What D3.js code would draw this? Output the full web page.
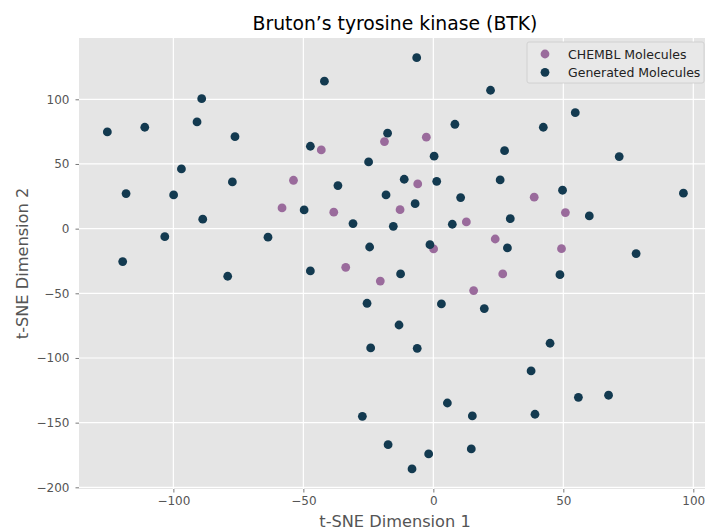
<!DOCTYPE html>
<html>
<head>
<meta charset="utf-8">
<script src="https://cdn.jsdelivr.net/npm/d3@7"></script>
<style>
  html, body { margin: 0; padding: 0; background: #fff; }
  svg { display: block; font-family: "DejaVu Sans", sans-serif; }
</style>
</head>
<body>
<svg id="chart" width="706" height="531"></svg>
<script>
// t-SNE embedding coordinates: reference (ChEMBL) molecules
const chemblX = [-43.1, -18.8, -53.8, -58.2, -38.3, -12.8, -33.7, -20.4, -2.7, -6.0,
                 38.8, 50.8, 12.7, 23.8, 0.1, 49.3, 26.7, 15.5];
const chemblY = [60.9, 67.3, 37.4, 16.0, 12.7, 14.7, -29.9, -40.5, 70.7, 34.6,
                 24.3, 12.4, 5.2, -8.0, -15.7, -15.5, -35.0, -47.9];

// t-SNE embedding coordinates: generated molecules
const genX = [-125.4, -111.0, -89.1, -90.9, -76.3, -41.9, -47.3, -17.6, -24.9, -96.9,
              -77.3, -36.7, -18.2, -118.2, -99.9, -49.7, -88.7, -30.9, -15.4, -103.3,
              -63.6, -24.5, -119.5, -47.3, -79.1, -12.6, -6.4, 22.0, 54.6, 8.3,
              42.3, 0.3, 27.4, 71.5, -11.2, 1.3, 25.7, 10.5, 49.7, 96.2,
              -7.0, 60.0, 29.6, 7.3, -1.3, 28.5, 78.0, 48.7, 3.1, 19.6,
              -13.2, -6.2, 44.9, 37.6, 55.8, 67.4, 5.4, 15.0, 39.1, -17.4,
              -1.8, 14.6, -8.2, -25.5, -24.1, -27.3];
const genY = [74.8, 78.4, 100.5, 82.5, 71.1, 114.0, 63.7, 73.8, 51.6, 46.2,
              36.1, 33.3, 26.1, 27.1, 26.1, 14.5, 7.3, 3.9, 1.8, -6.2,
              -6.6, -14.2, -25.5, -32.7, -36.8, -35.0, 132.2, 107.0, 89.7, 80.7,
              78.4, 56.0, 60.3, 55.7, 38.2, 36.6, 37.7, 24.0, 29.7, 27.4,
              19.3, 9.8, 7.7, 3.4, -12.4, -14.9, -19.3, -35.6, -58.2, -61.8,
              -74.5, -92.5, -88.6, -110.0, -130.4, -128.8, -134.8, -144.8, -143.5, -167.0,
              -174.2, -170.3, -185.8, -57.7, -92.2, -145.1];

const xTicks = [-100, -50, 0, 50, 100];
const yTicks = [-200, -150, -100, -50, 0, 50, 100];

const seriesNames = ["CHEMBL Molecules", "Generated Molecules"];
const seriesColors = ["#9a6b9c", "#133a50"];

const title = "Bruton\u2019s tyrosine kinase (BTK)";
const xLabel = "t-SNE Dimension 1";
const yLabel = "t-SNE Dimension 2";

const svg = d3.select("#chart");
const margin = { left: 79, right: 1, top: 38, bottom: 42 };
const W = 706, H = 531;
const plotW = W - margin.left - margin.right;
const plotH = H - margin.top - margin.bottom;

const x = d3.scaleLinear().domain([-136.3, 104.5]).range([0, plotW]);
const y = d3.scaleLinear().domain([-201.3, 147.4]).range([plotH, 0]);

const g = svg.append("g").attr("transform", `translate(${margin.left},${margin.top})`);

// panel background
g.append("rect").attr("width", plotW).attr("height", plotH).attr("fill", "#e5e5e5");

// grid
g.append("g").selectAll("line").data(xTicks).join("line")
  .attr("x1", d => x(d)).attr("x2", d => x(d))
  .attr("y1", 0).attr("y2", plotH)
  .attr("stroke", "#fff").attr("stroke-width", 1.2);
g.append("g").selectAll("line").data(yTicks).join("line")
  .attr("x1", 0).attr("x2", plotW)
  .attr("y1", d => y(d)).attr("y2", d => y(d))
  .attr("stroke", "#fff").attr("stroke-width", 1.2);

const fmt = d => (d < 0 ? "\u2212" + Math.abs(d) : String(d));

// axes
const xAxis = g.append("g").attr("transform", `translate(0,${plotH})`)
  .call(d3.axisBottom(x).tickValues(xTicks).tickFormat(fmt).tickSize(3.5).tickPadding(4));
const yAxis = g.append("g")
  .call(d3.axisLeft(y).tickValues(yTicks).tickFormat(fmt).tickSize(3.5).tickPadding(6));
[xAxis, yAxis].forEach(a => {
  a.select(".domain").remove();
  a.selectAll(".tick line").attr("stroke", "#555").attr("stroke-width", 0.8);
  a.selectAll(".tick text").attr("fill", "#555").attr("font-size", 12)
    .attr("font-family", "DejaVu Sans, sans-serif");
});

// points
const chembl = chemblX.map((v, i) => ({ x: v, y: chemblY[i] }));
const gen = genX.map((v, i) => ({ x: v, y: genY[i] }));

g.append("g").selectAll("circle").data(chembl).join("circle")
  .attr("cx", d => x(d.x)).attr("cy", d => y(d.y)).attr("r", 4.4)
  .attr("fill", seriesColors[0]);
g.append("g").selectAll("circle").data(gen).join("circle")
  .attr("cx", d => x(d.x)).attr("cy", d => y(d.y)).attr("r", 4.4)
  .attr("fill", seriesColors[1]);

// title and axis labels
const midX = margin.left + plotW / 2 + 3;
svg.append("text").attr("x", midX).attr("y", 30)
  .attr("text-anchor", "middle").attr("font-size", 18.8).attr("fill", "#000")
  .text(title);
svg.append("text").attr("x", midX).attr("y", 527)
  .attr("text-anchor", "middle").attr("font-size", 16.2).attr("fill", "#555")
  .text(xLabel);
svg.append("text")
  .attr("transform", `translate(28,${margin.top + plotH / 2}) rotate(-90)`)
  .attr("text-anchor", "middle").attr("font-size", 16.2).attr("fill", "#555")
  .text(yLabel);

// legend
const lg = svg.append("g").attr("transform", "translate(527,42)");
lg.append("rect").attr("width", 177).attr("height", 41).attr("rx", 2)
  .attr("fill", "#e8e8e8").attr("stroke", "#cccccc").attr("stroke-width", 0.8);
seriesNames.forEach((name, i) => {
  lg.append("circle").attr("cx", 18).attr("cy", 12 + i * 18.3).attr("r", 4.4)
    .attr("fill", seriesColors[i]);
  lg.append("text").attr("x", 41).attr("y", 12 + i * 18.3).attr("dy", "0.36em")
    .attr("font-size", 12.5).attr("fill", "#222").text(name);
});
</script>
</body>
</html>
